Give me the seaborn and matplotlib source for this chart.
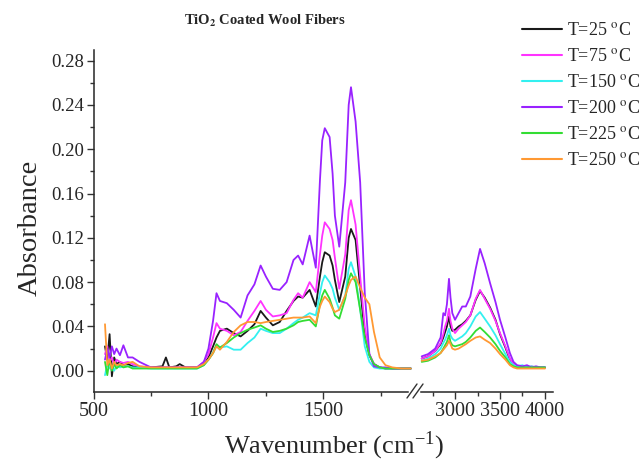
import numpy as np
import pandas as pd
import seaborn as sns
import matplotlib
matplotlib.use("Agg")
import matplotlib.pyplot as plt
from matplotlib.lines import Line2D
from matplotlib.ticker import MultipleLocator, FixedLocator

sns.set_style("ticks")
plt.rcParams["font.family"] = ["Liberation Serif", "DejaVu Serif"]
plt.rcParams["mathtext.fontset"] = "stix"

# ---------------- data ----------------
SERIES = ["T=25", "T=75", "T=150", "T=200", "T=225", "T=250"]
COLORS = ["#1a1a1a", "#ff33ff", "#33f0f0", "#9922ff", "#33dd33", "#ff9933"]

# left segment wavenumbers (cm-1)
L_WN = [550, 560, 570, 580, 590, 600, 615, 630, 650, 670, 700, 750, 800, 815, 830,
        860, 875, 900, 950, 980, 1000, 1020, 1035, 1050, 1080, 1110, 1140, 1170, 1200,
        1227, 1250, 1280, 1310, 1340, 1370, 1390, 1410, 1440, 1467, 1485, 1495, 1506, 1527,
        1540, 1550, 1569, 1595, 1610, 1620, 1640, 1660, 1680, 1700, 1720, 1745, 1770, 1800,
        1840, 1880]

L_T25 = [0.022, 0.010, 0.033, -0.005, 0.012, 0.006, 0.008, 0.005, 0.006, 0.004, 0.003, 0.003, 0.004, 0.012, 0.003,
         0.004, 0.006, 0.003, 0.003, 0.006, 0.012, 0.022, 0.030, 0.036, 0.038, 0.034, 0.031, 0.036, 0.042,
         0.054, 0.048, 0.041, 0.044, 0.054, 0.063, 0.067, 0.066, 0.073, 0.058, 0.085, 0.098, 0.107, 0.104,
         0.095, 0.082, 0.062, 0.085, 0.120, 0.128, 0.118, 0.075, 0.032, 0.014, 0.006, 0.003, 0.002, 0.002,
         0.002, 0.002]
L_T75 = [0.015, 0.022, 0.008, 0.012, 0.005, 0.010, 0.008, 0.007, 0.008, 0.006, 0.004, 0.003, 0.003, 0.003, 0.003,
         0.003, 0.003, 0.003, 0.003, 0.008, 0.015, 0.030, 0.043, 0.038, 0.036, 0.032, 0.035, 0.045, 0.054,
         0.063, 0.055, 0.049, 0.050, 0.052, 0.064, 0.070, 0.066, 0.080, 0.071, 0.105, 0.122, 0.134, 0.128,
         0.118, 0.102, 0.074, 0.105, 0.145, 0.154, 0.132, 0.085, 0.040, 0.015, 0.006, 0.003, 0.002, 0.002,
         0.002, 0.002]
L_T150 = [-0.004, 0.006, 0.002, 0.004, 0.000, 0.005, 0.003, 0.004, 0.004, 0.003, 0.003, 0.002, 0.002, 0.002, 0.002,
          0.002, 0.002, 0.002, 0.002, 0.005, 0.010, 0.016, 0.023, 0.021, 0.022, 0.019, 0.019, 0.025, 0.030,
          0.038, 0.036, 0.034, 0.034, 0.038, 0.043, 0.046, 0.048, 0.052, 0.050, 0.070, 0.080, 0.086, 0.080,
          0.074, 0.066, 0.055, 0.068, 0.092, 0.098, 0.085, 0.055, 0.022, 0.008, 0.003, 0.002, 0.002, 0.002,
          0.002, 0.002]
L_T200 = [0.010, 0.020, 0.012, 0.022, 0.015, 0.020, 0.014, 0.023, 0.012, 0.012, 0.008, 0.003, 0.003, 0.003, 0.003,
          0.003, 0.003, 0.003, 0.003, 0.008, 0.020, 0.045, 0.070, 0.063, 0.061, 0.055, 0.048, 0.068, 0.078,
          0.095, 0.085, 0.074, 0.073, 0.080, 0.100, 0.104, 0.096, 0.122, 0.093, 0.172, 0.208, 0.219, 0.211,
          0.178, 0.140, 0.112, 0.170, 0.240, 0.256, 0.225, 0.170, 0.070, 0.015, 0.004, 0.003, 0.003, 0.002,
          0.002, 0.002]
L_T225 = [0.008, -0.004, 0.010, 0.000, 0.006, 0.002, 0.005, 0.003, 0.004, 0.002, 0.002, 0.002, 0.002, 0.002, 0.002,
          0.002, 0.002, 0.002, 0.002, 0.005, 0.010, 0.016, 0.024, 0.021, 0.025, 0.030, 0.034, 0.037, 0.039,
          0.041, 0.038, 0.035, 0.036, 0.038, 0.041, 0.044, 0.045, 0.046, 0.040, 0.060, 0.068, 0.073, 0.065,
          0.057, 0.050, 0.047, 0.065, 0.082, 0.088, 0.080, 0.055, 0.030, 0.014, 0.006, 0.003, 0.002, 0.002,
          0.002, 0.002]
L_T250 = [0.042, 0.005, 0.010, 0.002, 0.008, 0.005, 0.006, 0.005, 0.007, 0.008, 0.004, 0.003, 0.003, 0.003, 0.003,
          0.003, 0.003, 0.003, 0.003, 0.006, 0.010, 0.016, 0.022, 0.019, 0.026, 0.035, 0.041, 0.044, 0.044,
          0.043, 0.044, 0.045, 0.046, 0.047, 0.048, 0.048, 0.048, 0.049, 0.043, 0.058, 0.063, 0.067, 0.062,
          0.056, 0.053, 0.055, 0.068, 0.077, 0.082, 0.085, 0.075, 0.066, 0.060, 0.035, 0.012, 0.005, 0.003,
          0.002, 0.002]

# right segment wavenumbers (cm-1)
R_WN = [2630, 2700, 2780, 2840, 2870, 2890, 2910, 2933, 2950, 2970, 3000, 3040, 3080, 3120, 3170,
        3230, 3278, 3330, 3390, 3450, 3500, 3560, 3610, 3650, 3690, 3750, 3800, 3850, 3900, 3950, 4000]

R_T25 = [0.011, 0.013, 0.018, 0.024, 0.030, 0.035, 0.040, 0.049, 0.040, 0.036, 0.037, 0.040, 0.042, 0.045, 0.050,
         0.064, 0.072, 0.066, 0.057, 0.046, 0.033, 0.021, 0.010, 0.006, 0.004, 0.003, 0.004, 0.003, 0.003, 0.003, 0.003]
R_T75 = [0.011, 0.013, 0.018, 0.025, 0.033, 0.040, 0.045, 0.056, 0.045, 0.038, 0.034, 0.038, 0.041, 0.044, 0.050,
         0.065, 0.073, 0.065, 0.056, 0.045, 0.034, 0.022, 0.011, 0.006, 0.004, 0.004, 0.003, 0.004, 0.003, 0.003, 0.003]
R_T150 = [0.009, 0.011, 0.015, 0.020, 0.025, 0.028, 0.032, 0.038, 0.032, 0.029, 0.027, 0.029, 0.031, 0.034, 0.040,
          0.049, 0.053, 0.047, 0.040, 0.032, 0.024, 0.015, 0.008, 0.005, 0.004, 0.005, 0.003, 0.004, 0.003, 0.003, 0.003]
R_T200 = [0.013, 0.015, 0.020, 0.030, 0.052, 0.050, 0.060, 0.083, 0.066, 0.052, 0.046, 0.052, 0.058, 0.058, 0.067,
          0.092, 0.110, 0.097, 0.079, 0.062, 0.046, 0.030, 0.016, 0.008, 0.005, 0.004, 0.005, 0.003, 0.004, 0.003, 0.003]
R_T225 = [0.008, 0.009, 0.012, 0.016, 0.020, 0.023, 0.026, 0.032, 0.026, 0.023, 0.022, 0.023, 0.024, 0.026, 0.030,
          0.036, 0.039, 0.035, 0.030, 0.024, 0.018, 0.012, 0.006, 0.004, 0.003, 0.003, 0.003, 0.003, 0.003, 0.003, 0.003]
R_T250 = [0.009, 0.010, 0.013, 0.016, 0.019, 0.021, 0.023, 0.027, 0.024, 0.020, 0.019, 0.020, 0.022, 0.024, 0.027,
          0.030, 0.031, 0.028, 0.025, 0.020, 0.015, 0.010, 0.005, 0.003, 0.002, 0.002, 0.002, 0.002, 0.002, 0.002, 0.002]

LEFT = [L_T25, L_T75, L_T150, L_T200, L_T225, L_T250]
RIGHT = [R_T25, R_T75, R_T150, R_T200, R_T225, R_T250]

LEFT_TICKS = [500, 1000, 1500]
RIGHT_TICKS = [3000, 3500, 4000]
Y_TICKS = [0.00, 0.04, 0.08, 0.12, 0.16, 0.20, 0.24, 0.28]

# ---------------- tables ----------------
def long_table(wn, series_list):
    return pd.DataFrame({
        "wn": np.tile(wn, len(SERIES)),
        "absorbance": np.concatenate([np.asarray(s, float) for s in series_list]),
        "series": np.repeat(SERIES, len(wn)),
    })

df_left = long_table(L_WN, LEFT)
df_right = long_table(R_WN, RIGHT)
palette = dict(zip(SERIES, COLORS))

# ---------------- figure ----------------
W, H = 639, 461
fig = plt.figure(figsize=(W / 100, H / 100), dpi=100)
ax_bottom, ax_top = 392, 50
axL = fig.add_axes([93.5 / W, 1 - ax_bottom / H, (408 - 93.5) / W, (ax_bottom - ax_top) / H])
axR = fig.add_axes([421 / W, 1 - ax_bottom / H, (553 - 421) / W, (ax_bottom - ax_top) / H])

for ax, df in ((axL, df_left), (axR, df_right)):
    sns.lineplot(data=df, x="wn", y="absorbance", hue="series", palette=palette,
                 hue_order=SERIES, estimator=None, sort=False, legend=False,
                 linewidth=1.3, ax=ax)
    for ln in ax.lines:
        ln.set_clip_on(False)
    ax.set_ylim(-0.0192, 0.2896)
    ax.set_xlabel("")
    ax.set_ylabel("")
    ax.spines["top"].set_visible(False)
    ax.spines["right"].set_visible(False)
    ax.spines["bottom"].set_linewidth(1.1)
    ax.spines["left"].set_linewidth(1.1)
    ax.set_facecolor("none")
    ax.tick_params(axis="both", which="major", direction="out", length=5, width=1.0,
                   color="#333333")
    ax.tick_params(axis="both", which="minor", direction="out", length=3, width=1.0,
                   color="#333333")
    ax.tick_params(axis="x", labelsize=14.5, pad=2)
    ax.tick_params(axis="y", labelsize=13.5, pad=2)

axL.set_xlim(500, 1868)
axL.set_xticks(LEFT_TICKS)
axL.xaxis.set_minor_locator(MultipleLocator(250))
axL.set_yticks(Y_TICKS)
axL.set_yticklabels([f"{v:.2f}" for v in Y_TICKS])
axL.yaxis.set_minor_locator(MultipleLocator(0.02))

axR.set_xlim(2622, 4089)
axR.set_xticks(RIGHT_TICKS)
axR.xaxis.set_minor_locator(FixedLocator([2750, 3250, 3750]))
axR.spines["left"].set_visible(False)
axR.set_yticks([])
axR.tick_params(axis="y", which="both", left=False, labelleft=False)

# axis-break marks
for dx in (0, 6):
    fig.add_artist(Line2D([(407 + dx) / W, (417 + dx) / W], [1 - 398 / H, 1 - 384 / H],
                          color="#333333", lw=1.0))

# texts
fig.text(265 / W, 1 - 21 / H, r"TiO$_{\mathbf{2}}$ Coated Wool Fibers", fontweight="bold",
         fontsize=10.5, ha="center", va="center")
fig.text(30 / W, 1 - 228 / H, "Absorbance", rotation=90, fontsize=20.5, ha="center", va="center")
fig.text(334 / W, 1 - 446 / H, r"Wavenumber (cm$^{\mathregular{-1}}$)", fontsize=19,
         ha="center", va="center")

handles = [Line2D([], [], color=c, lw=1.5) for c in COLORS]
labels = [s + r" $^{\mathrm{o}}$C" for s in SERIES]
fig.legend(handles, labels, loc="upper left", bbox_to_anchor=(522 / W, 1 - 22 / H),
           frameon=False, fontsize=13, handlelength=2.2, handletextpad=0.3,
           labelspacing=0.5, borderpad=0, borderaxespad=0)

fig.savefig("out.png", dpi=100)
